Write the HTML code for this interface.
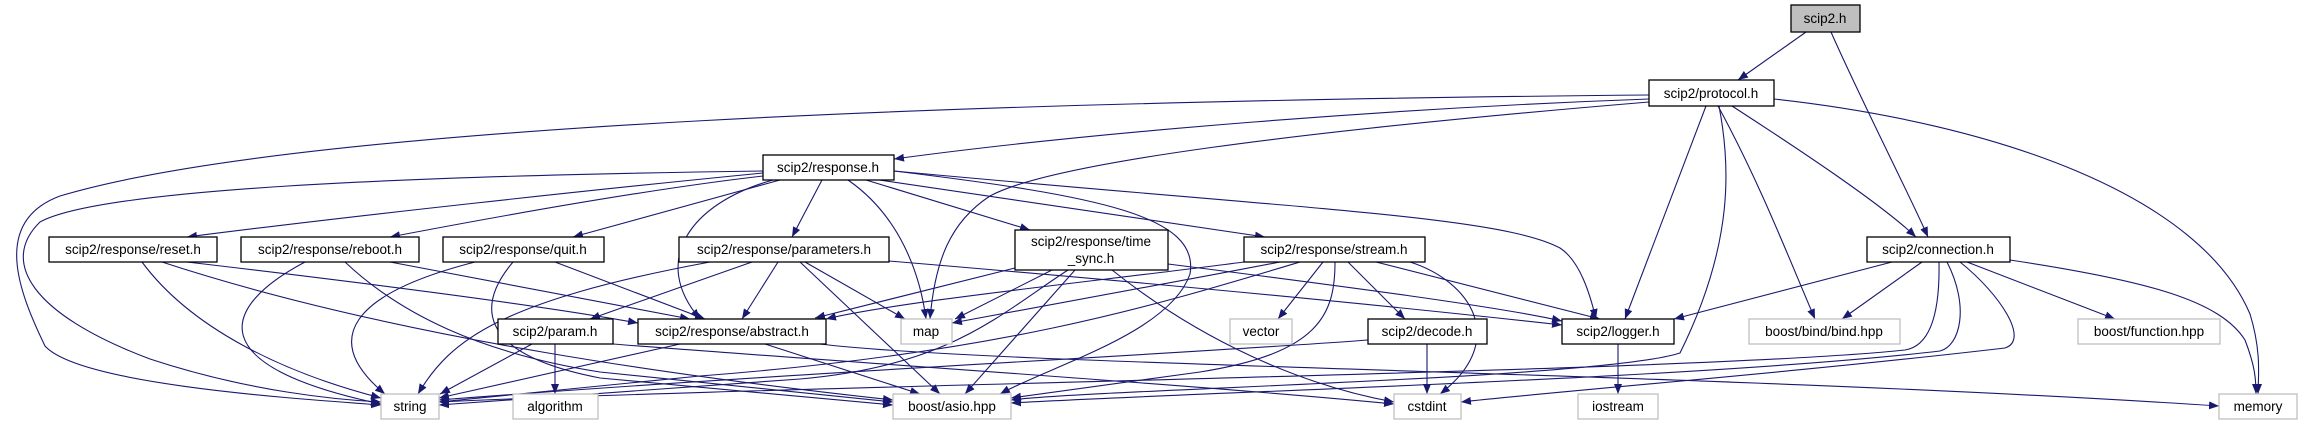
<!DOCTYPE html>
<html><head><meta charset="utf-8"><style>
html,body{margin:0;padding:0;background:#fff;}
svg{display:block;}
text{font-family:"Liberation Sans",sans-serif;font-size:13.5px;fill:#000;text-anchor:middle;}
.n{fill:#fff;stroke:#000;stroke-width:1.3;}
.g{fill:#fff;stroke:#bfbfbf;stroke-width:1.3;}
.e{fill:none;stroke:#191970;stroke-width:1.1;marker-end:url(#a);}
</style></head><body>
<svg width="2303" height="425" viewBox="0 0 2303 425" xmlns="http://www.w3.org/2000/svg">
<defs><marker id="a" markerUnits="userSpaceOnUse" markerWidth="11" markerHeight="8" refX="10" refY="4" orient="auto"><path d="M0,0 L10,4 L0,8 z" fill="#191970"/></marker></defs>
<g>
<path class="e" d="M1806,32 L1738,80"/>
<path class="e" d="M1831,32 C1860,98 1910,196 1928,237"/>
<path class="e" d="M1649,95 C1000,101 300,124 60,196 C-10,222 20,294 45,346 C80,385 300,399 381,405"/>
<path class="e" d="M1649,99 C1400,108 1100,131 894,159"/>
<path class="e" d="M1649,102 C1300,131 1050,163 990,196 C950,222 935,261 930,319"/>
<path class="e" d="M1706,106 L1625,319"/>
<path class="e" d="M1719,106 C1730,163 1735,242 1680,353 C1600,379 1100,389 1011,400"/>
<path class="e" d="M1718,106 C1760,183 1790,261 1815,319"/>
<path class="e" d="M1732,106 C1800,150 1880,203 1916,237"/>
<path class="e" d="M1774,99 C2000,124 2200,196 2250,314 C2262,353 2258,379 2258,394"/>
<path class="e" d="M1892,262 L1674,319"/>
<path class="e" d="M1922,262 L1842,319"/>
<path class="e" d="M1967,262 L2115,319"/>
<path class="e" d="M2010,260 C2150,281 2220,301 2245,340 C2255,366 2256,379 2256,394"/>
<path class="e" d="M1939,262 C1940,314 1930,346 1905,350 C1700,372 800,385 439,402"/>
<path class="e" d="M1947,262 C1970,307 1960,346 1940,351 C1700,379 1200,392 1011,403"/>
<path class="e" d="M1960,262 C2000,294 2030,340 2005,348 C1800,372 1550,392 1461,402"/>
<path class="e" d="M763,173 C600,189 350,216 187,237"/>
<path class="e" d="M763,176 C650,189 500,216 390,237"/>
<path class="e" d="M780,180 L573,237"/>
<path class="e" d="M822,180 L792,237"/>
<path class="e" d="M866,180 L1030,230"/>
<path class="e" d="M866,178 L1265,237"/>
<path class="e" d="M773,180 C690,203 650,261 700,319"/>
<path class="e" d="M848,180 C900,216 920,274 926,319"/>
<path class="e" d="M894,171 C1100,196 1200,216 1190,274 C1170,333 1050,366 1000,394"/>
<path class="e" d="M763,171 C400,176 100,189 40,222 C0,261 30,314 150,359 C250,392 340,400 381,402"/>
<path class="e" d="M894,171 C1300,209 1500,216 1560,248 C1580,261 1590,294 1596,319"/>
<path class="e" d="M142,262 C190,327 280,372 381,398"/>
<path class="e" d="M187,262 C400,287 550,307 638,323"/>
<path class="e" d="M162,262 C400,340 700,379 893,400"/>
<path class="e" d="M305,262 C220,307 200,366 381,404"/>
<path class="e" d="M390,262 L690,319"/>
<path class="e" d="M345,262 C400,314 480,353 600,372 L893,402"/>
<path class="e" d="M475,262 C350,294 320,340 385,394"/>
<path class="e" d="M555,262 L705,319"/>
<path class="e" d="M513,262 C480,301 470,353 600,378 L893,405"/>
<path class="e" d="M710,262 C500,301 450,340 418,394"/>
<path class="e" d="M752,262 L590,319"/>
<path class="e" d="M778,262 L742,319"/>
<path class="e" d="M805,262 L905,319"/>
<path class="e" d="M800,262 L940,394"/>
<path class="e" d="M889,261 C1200,287 1400,307 1562,325"/>
<path class="e" d="M1015,268 L815,318"/>
<path class="e" d="M1052,270 L955,319"/>
<path class="e" d="M1075,270 L965,394"/>
<path class="e" d="M1068,270 C1000,314 950,366 800,379 L439,405"/>
<path class="e" d="M1112,270 C1200,340 1300,385 1394,402"/>
<path class="e" d="M1168,264 C1350,287 1500,307 1562,321"/>
<path class="e" d="M1244,262 C1100,281 900,301 826,319"/>
<path class="e" d="M1280,262 C1150,287 1000,314 952,323"/>
<path class="e" d="M1323,262 L1278,319"/>
<path class="e" d="M1348,262 L1405,319"/>
<path class="e" d="M1410,262 C1470,281 1510,340 1440,394"/>
<path class="e" d="M1376,262 L1600,319"/>
<path class="e" d="M1300,262 C1150,307 1000,353 700,376 L439,402"/>
<path class="e" d="M1335,262 C1335,314 1320,353 1200,372 L1011,398"/>
<path class="e" d="M532,344 L440,394"/>
<path class="e" d="M555,344 L555,394"/>
<path class="e" d="M613,344 C800,359 1200,385 1394,404"/>
<path class="e" d="M680,344 L439,398"/>
<path class="e" d="M765,344 L920,394"/>
<path class="e" d="M820,344 C1000,366 1700,372 2219,406"/>
<path class="e" d="M1427,344 L1427,394"/>
<path class="e" d="M1368,340 C1200,353 800,372 439,400"/>
<path class="e" d="M1618,344 L1618,394"/>
</g>
<g>
<rect x="1791" y="5" width="69" height="27" fill="#bfbfbf" stroke="#000" stroke-width="1.3"/><text x="1825" y="23">scip2.h</text>
<rect class="n" x="1649" y="80" width="125" height="26"/><text x="1711" y="98">scip2/protocol.h</text>
<rect class="n" x="763" y="155" width="131" height="25"/><text x="828" y="172">scip2/response.h</text>
<rect class="n" x="49" y="237" width="168" height="25"/><text x="133" y="254">scip2/response/reset.h</text>
<rect class="n" x="241" y="237" width="178" height="25"/><text x="330" y="254">scip2/response/reboot.h</text>
<rect class="n" x="443" y="237" width="161" height="25"/><text x="523" y="254">scip2/response/quit.h</text>
<rect class="n" x="679" y="237" width="210" height="25"/><text x="784" y="254">scip2/response/parameters.h</text>
<rect class="n" x="1015" y="230" width="153" height="40"/><text x="1091" y="246">scip2/response/time</text><text x="1091" y="263">_sync.h</text>
<rect class="n" x="1244" y="237" width="181" height="25"/><text x="1334" y="254">scip2/response/stream.h</text>
<rect class="n" x="1867" y="237" width="143" height="25"/><text x="1938" y="254">scip2/connection.h</text>
<rect class="n" x="498" y="319" width="115" height="25"/><text x="555" y="336">scip2/param.h</text>
<rect class="n" x="638" y="319" width="188" height="25"/><text x="732" y="336">scip2/response/abstract.h</text>
<rect class="g" x="901" y="319" width="51" height="25"/><text x="926" y="336">map</text>
<rect class="g" x="1230" y="319" width="62" height="25"/><text x="1261" y="336">vector</text>
<rect class="n" x="1368" y="319" width="119" height="25"/><text x="1427" y="336">scip2/decode.h</text>
<rect class="n" x="1562" y="319" width="112" height="25"/><text x="1618" y="336">scip2/logger.h</text>
<rect class="g" x="1749" y="319" width="151" height="25"/><text x="1824" y="336">boost/bind/bind.hpp</text>
<rect class="g" x="2078" y="319" width="142" height="25"/><text x="2149" y="336">boost/function.hpp</text>
<rect class="g" x="381" y="394" width="58" height="25"/><text x="410" y="411">string</text>
<rect class="g" x="513" y="394" width="85" height="25"/><text x="555" y="411">algorithm</text>
<rect class="g" x="893" y="394" width="118" height="25"/><text x="952" y="411">boost/asio.hpp</text>
<rect class="g" x="1394" y="394" width="67" height="25"/><text x="1427" y="411">cstdint</text>
<rect class="g" x="1578" y="394" width="80" height="25"/><text x="1618" y="411">iostream</text>
<rect class="g" x="2219" y="394" width="78" height="25"/><text x="2258" y="411">memory</text>
</g>
</svg>
</body></html>
